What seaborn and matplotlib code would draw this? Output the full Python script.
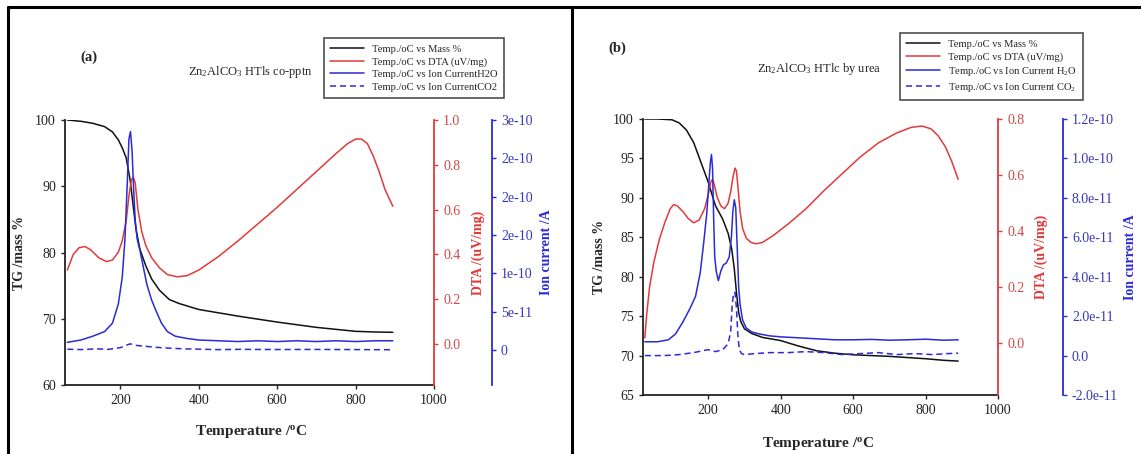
import numpy as np
import pandas as pd
import matplotlib
matplotlib.use("Agg")
import matplotlib.pyplot as plt
from matplotlib.lines import Line2D
from matplotlib.ticker import FixedLocator, FixedFormatter
import seaborn as sns

# ---------------- data: panel (a) ----------------
a_T_mass = [65, 100, 130, 160, 180, 195, 205, 215, 225, 232, 240, 250, 265, 280, 300, 325, 350,
            400, 450, 500, 600, 700, 800, 850, 895]
a_mass = [100, 99.8, 99.5, 99.0, 98.2, 97.0, 95.8, 94.3, 91.0, 87.5, 83.5, 80.5, 78.0, 76.0, 74.3,
          72.9, 72.3, 71.4, 70.9, 70.4, 69.5, 68.7, 68.1, 68.0, 67.95]

a_T_dta = [65, 80, 95, 110, 125, 145, 165, 180, 195, 205, 215, 222, 228, 233, 238, 245, 255, 265,
           280, 300, 320, 345, 370, 400, 450, 500, 550, 600, 650, 700, 750, 780, 800, 815, 830,
           845, 860, 875, 895]
a_dta = [0.33, 0.40, 0.43, 0.435, 0.42, 0.385, 0.368, 0.375, 0.41, 0.46, 0.55, 0.66, 0.73, 0.745,
         0.72, 0.60, 0.50, 0.44, 0.385, 0.34, 0.31, 0.30, 0.305, 0.33, 0.39, 0.46, 0.535, 0.61,
         0.69, 0.77, 0.85, 0.895, 0.915, 0.915, 0.895, 0.84, 0.77, 0.69, 0.615]

a_T_h2o = [65, 100, 130, 160, 180, 195, 205, 212, 218, 222, 226, 230, 234, 238, 243, 250, 258,
           268, 280, 292, 305, 320, 340, 370, 400, 450, 500, 550, 600, 650, 700, 750, 800, 850, 895]
a_h2o = [1.0e-11, 1.3e-11, 1.8e-11, 2.4e-11, 3.5e-11, 6.0e-11, 9.5e-11, 1.45e-10, 2.2e-10,
         2.75e-10, 2.85e-10, 2.6e-10, 2.1e-10, 1.7e-10, 1.45e-10, 1.3e-10, 1.1e-10, 8.5e-11,
         6.5e-11, 5.0e-11, 3.5e-11, 2.4e-11, 1.8e-11, 1.5e-11, 1.3e-11, 1.2e-11, 1.1e-11,
         1.2e-11, 1.1e-11, 1.2e-11, 1.1e-11, 1.2e-11, 1.1e-11, 1.2e-11, 1.2e-11]

a_T_co2 = [65, 100, 140, 170, 200, 215, 225, 240, 260, 290, 320, 360, 400, 450, 500, 600, 700,
           800, 895]
a_co2 = [1e-12, 0.5e-12, 1.5e-12, 0.8e-12, 3e-12, 6e-12, 8e-12, 6e-12, 5e-12, 3.5e-12, 2.5e-12,
         1.5e-12, 1.0e-12, 0.5e-12, 0.8e-12, 0.6e-12, 0.7e-12, 0.5e-12, 0.3e-12]

# ---------------- data: panel (b) ----------------
b_T_mass = [25, 60, 100, 120, 140, 160, 180, 200, 220, 240, 255, 265, 272, 278, 284, 290, 300,
            320, 350, 400, 450, 500, 550, 600, 700, 800, 850, 890]
b_mass = [100, 100, 99.9, 99.5, 98.6, 97.0, 94.5, 92.0, 89.0, 87.3, 85.5, 83.5, 81.0, 78.0,
          75.5, 74.3, 73.4, 72.8, 72.3, 71.9, 71.2, 70.6, 70.3, 70.1, 69.9, 69.6, 69.4, 69.3]

b_T_dta = [25, 30, 38, 50, 65, 80, 95, 105, 115, 130, 145, 160, 175, 190, 200, 207, 212, 217,
           225, 235, 245, 255, 262, 268, 274, 278, 282, 288, 295, 305, 318, 332, 350, 380, 420,
           470, 520, 570, 620, 670, 720, 760, 790, 815, 835, 855, 872, 890]
b_dta = [0.02, 0.10, 0.20, 0.29, 0.37, 0.43, 0.48, 0.495, 0.49, 0.47, 0.445, 0.43, 0.44, 0.48,
         0.53, 0.575, 0.585, 0.565, 0.52, 0.49, 0.48, 0.50, 0.54, 0.59, 0.625, 0.615, 0.56,
         0.47, 0.41, 0.375, 0.36, 0.355, 0.36, 0.385, 0.425, 0.48, 0.545, 0.605, 0.665, 0.715,
         0.75, 0.77, 0.775, 0.765, 0.74, 0.70, 0.65, 0.585]

b_T_h2o = [25, 60, 90, 110, 130, 150, 165, 178, 188, 196, 202, 206, 209, 212, 215, 218, 222,
           228, 235, 242, 250, 258, 264, 268, 272, 276, 280, 284, 288, 295, 305, 320, 340, 370,
           400, 450, 500, 550, 600, 650, 700, 750, 800, 850, 890]
b_h2o = [7e-12, 7e-12, 8e-12, 1.1e-11, 1.7e-11, 2.4e-11, 3.0e-11, 4.2e-11, 5.8e-11, 7.2e-11,
         8.8e-11, 9.8e-11, 1.02e-10, 9.5e-11, 7.0e-11, 5.0e-11, 4.3e-11, 3.8e-11, 4.3e-11,
         4.6e-11, 4.7e-11, 5.0e-11, 6.0e-11, 7.3e-11, 7.9e-11, 7.5e-11, 5.5e-11, 3.5e-11,
         2.6e-11, 1.8e-11, 1.4e-11, 1.2e-11, 1.1e-11, 1.0e-11, 9.5e-12, 9e-12, 8.5e-12, 8e-12,
         8e-12, 8.2e-12, 7.8e-12, 8e-12, 8.3e-12, 7.8e-12, 8e-12]

b_T_co2 = [25, 80, 120, 160, 200, 220, 240, 255, 262, 266, 270, 274, 278, 282, 286, 292, 300,
           330, 370, 420, 470, 520, 570, 620, 670, 720, 770, 820, 860, 890]
b_co2 = [0, 0, 0.5e-12, 1.5e-12, 3e-12, 2e-12, 3e-12, 6e-12, 1.2e-11, 2.5e-11, 3.2e-11,
         3.2e-11, 2.4e-11, 1.0e-11, 3e-12, 1e-12, 0.5e-12, 1.0e-12, 1.5e-12, 1.5e-12, 2.0e-12,
         1.5e-12, 0.5e-12, 1.0e-12, 1.5e-12, 0.5e-12, 1.0e-12, 0.5e-12, 1.0e-12, 1.2e-12]

# ---------------- tick labels ----------------
x_ticks = [200, 400, 600, 800, 1000]
a_tg_ticks = [60, 70, 80, 90, 100]
b_tg_ticks = [65, 70, 75, 80, 85, 90, 95, 100]
a_dta_ticks = [0.0, 0.2, 0.4, 0.6, 0.8, 1.0]
a_dta_labels = ["0.0", "0.2", "0.4", "0.6", "0.8", "1.0"]
b_dta_ticks = [0.0, 0.2, 0.4, 0.6, 0.8]
b_dta_labels = ["0.0", "0.2", "0.4", "0.6", "0.8"]
a_ion_ticks = [0, 5e-11, 1e-10, 1.5e-10, 2e-10, 2.5e-10, 3e-10]
a_ion_labels = ["0", "5e-11", "1e-10", "2e-10", "2e-10", "2e-10", "3e-10"]
b_ion_ticks = [-2e-11, 0, 2e-11, 4e-11, 6e-11, 8e-11, 1e-10, 1.2e-10]
b_ion_labels = ["-2.0e-11", "0.0", "2.0e-11", "4.0e-11", "6.0e-11", "8.0e-11", "1.0e-10", "1.2e-10"]

a_legend = ["Temp./oC vs Mass %", "Temp./oC vs DTA (uV/mg)",
            "Temp./oC vs Ion CurrentH2O", "Temp./oC vs Ion CurrentCO2"]
b_legend = ["Temp./oC vs Mass %", "Temp./oC vs DTA (uV/mg)",
            "Temp./oC vs Ion Current H$_2$O", "Temp./oC vs Ion Current CO$_2$"]

# ---------------- style ----------------
sns.set_style("ticks")
plt.rcParams["font.family"] = ["Liberation Serif", "DejaVu Serif"]
plt.rcParams["mathtext.fontset"] = "custom"
plt.rcParams["mathtext.rm"] = "Liberation Serif"
plt.rcParams["mathtext.it"] = "Liberation Serif:italic"
plt.rcParams["mathtext.bf"] = "Liberation Serif:bold"

BLACK = "#111111"
RED = "#e23a3a"
BLUE = "#2b2bd6"
RED_T = "#d04848"
BLUE_T = "#3838b8"

W, H = 1141, 454
fig = plt.figure(figsize=(W / 100, H / 100), dpi=100)


def px_rect(l, t, r, b):
    return [l / W, 1 - b / H, (r - l) / W, (b - t) / H]


def panel(rect, xlim, tg_lim, tg_ticks, dta_lim, dta_ticks, dta_labels, ion_lim, ion_ticks,
          ion_labels, ion_pos, data, labels, label_x, xlabel_pos, legend_anchor):
    ax = fig.add_axes(rect)
    ax2 = ax.twinx()
    ax3 = ax.twinx()
    T_m, m, T_d, d, T_h, h, T_c, c = data
    sns.lineplot(x=T_m, y=m, ax=ax, color=BLACK, lw=1.1, sort=False)
    sns.lineplot(x=T_d, y=d, ax=ax2, color=RED, lw=1.1, sort=False)
    sns.lineplot(x=T_h, y=h, ax=ax3, color=BLUE, lw=1.1, sort=False)
    sns.lineplot(x=T_c, y=c, ax=ax3, color=BLUE, lw=1.1, sort=False, linestyle=(0, (4, 2.5)))

    ax.set_xlim(*xlim)
    ax.set_ylim(*tg_lim)
    ax.set_xticks(x_ticks)
    ax.set_yticks(tg_ticks)
    for s in ["top", "right"]:
        ax.spines[s].set_visible(False)
    for s in ["left", "bottom"]:
        ax.spines[s].set_color("#222222")
        ax.spines[s].set_linewidth(1.3)
    ax.tick_params(axis="both", direction="out", length=3, width=1, labelsize=10, colors="#222222")

    ax2.set_ylim(*dta_lim)
    ax2.yaxis.set_major_locator(FixedLocator(dta_ticks))
    ax2.yaxis.set_major_formatter(FixedFormatter(dta_labels))
    for s in ["top", "left", "bottom"]:
        ax2.spines[s].set_visible(False)
    ax2.spines["right"].set_color(RED)
    ax2.spines["right"].set_linewidth(1.3)
    ax2.tick_params(axis="y", direction="out", length=3, width=1, colors=RED, labelcolor=RED_T,
                    labelsize=10)

    ax3.set_ylim(*ion_lim)
    ax3.yaxis.set_major_locator(FixedLocator(ion_ticks))
    ax3.yaxis.set_major_formatter(FixedFormatter(ion_labels))
    ax3.spines["right"].set_position(("axes", ion_pos))
    for s in ["top", "left", "bottom"]:
        ax3.spines[s].set_visible(False)
    ax3.spines["right"].set_color(BLUE)
    ax3.spines["right"].set_linewidth(1.3)
    ax3.tick_params(axis="y", direction="out", length=3, width=1, colors=BLUE, labelcolor=BLUE_T,
                    labelsize=10)

    ax.set_ylabel("TG /mass %", fontsize=10, fontweight="bold")
    ax.yaxis.set_label_coords(label_x[0], 0.5)
    ax2.set_ylabel("DTA /(uV/mg)", fontsize=10, fontweight="bold", color=RED)
    ax2.yaxis.set_label_coords(label_x[1], 0.5)
    ax3.set_ylabel("Ion current /A", fontsize=10, fontweight="bold", color=BLUE)
    ax3.yaxis.set_label_coords(label_x[2], 0.5)
    for a in (ax, ax2, ax3):
        a.yaxis.label.set_va("center")
    ax.set_xlabel(r"Temperature /$^{\mathbf{o}}$C", fontsize=11, fontweight="bold")
    ax.xaxis.set_label_coords(*xlabel_pos)
    ax.xaxis.label.set_va("center")

    handles = [Line2D([], [], color=BLACK, lw=1.1), Line2D([], [], color=RED, lw=1.1),
               Line2D([], [], color=BLUE, lw=1.1),
               Line2D([], [], color=BLUE, lw=1.1, linestyle=(0, (4, 2.5)))]
    leg = fig.legend(handles, labels, loc="upper left", bbox_to_anchor=legend_anchor,
                     fontsize=7.6, frameon=True, fancybox=False, edgecolor="#222222",
                     labelspacing=0.3, handlelength=3.2, handletextpad=0.8,
                     borderpad=0.6, borderaxespad=0)
    leg.get_frame().set_linewidth(1.2)
    return ax


# Panel (a)
panel(px_rect(65, 120, 434, 385), (59, 1000), (60, 100), a_tg_ticks,
      (-0.183, 1.0), a_dta_ticks, a_dta_labels, (-4.57e-11, 3e-10), a_ion_ticks, a_ion_labels,
      1.157, (a_T_mass, a_mass, a_T_dta, a_dta, a_T_h2o, a_h2o, a_T_co2, a_co2), a_legend,
      (-0.122, 1.119, 1.306), (0.504, -0.177), (323.6 / W, 1 - 38 / H))

# Panel (b)
panel(px_rect(643, 119, 998, 395), (20, 1000), (65, 100), b_tg_ticks,
      (-0.184, 0.8), b_dta_ticks, b_dta_labels, (-2e-11, 1.2e-10), b_ion_ticks, b_ion_labels,
      1.183, (b_T_mass, b_mass, b_T_dta, b_dta, b_T_h2o, b_h2o, b_T_co2, b_co2), b_legend,
      (-0.123, 1.123, 1.373), (0.492, -0.174), (899.6 / W, 1 - 33 / H))

# Panel annotations
fig.text(89 / W, 1 - 57 / H, "(a)", fontsize=10.5, fontweight="bold", ha="center", va="center")
fig.text(250 / W, 1 - 72 / H, r"Zn$_\mathrm{2}$AlCO$_\mathrm{3}$ HTls co-pptn", fontsize=9,
         ha="center", va="center")
fig.text(617 / W, 1 - 48 / H, "(b)", fontsize=10.5, fontweight="bold", ha="center", va="center")
fig.text(819 / W, 1 - 69 / H, r"Zn$_\mathrm{2}$AlCO$_\mathrm{3}$ HTlc by urea", fontsize=9,
         ha="center", va="center")

# Panel frame lines
for xs, ys in [((8, 1141), (7, 7)), ((8, 8), (7, 454)), ((572, 572), (7, 454))]:
    fig.add_artist(Line2D([x / W for x in xs], [1 - y / H for y in ys], color="black", lw=2.2,
                          transform=fig.transFigure))

fig.savefig("out.png", dpi=100, facecolor="white")
